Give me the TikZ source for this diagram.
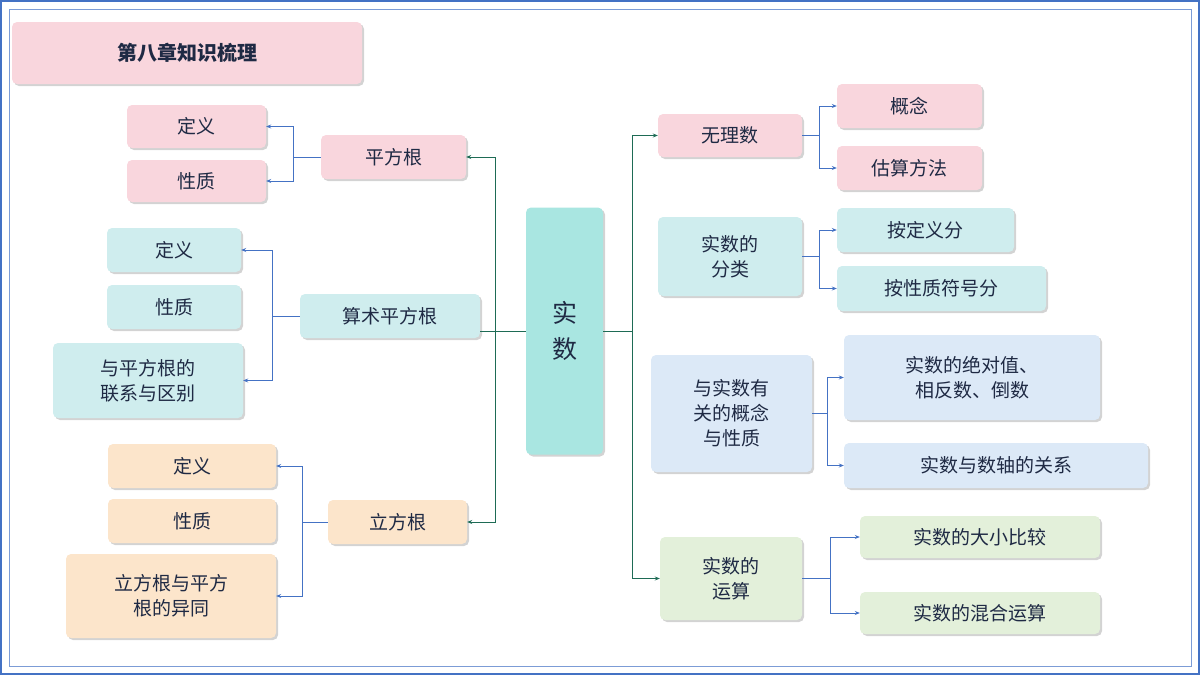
\documentclass[tikz,border=0pt]{standalone}
\usepackage{fontspec}
\newfontfamily\cjk{Noto Sans CJK SC}
\usetikzlibrary{shadows,arrows.meta}
\definecolor{pk}{HTML}{F9D6DD}
\definecolor{tl}{HTML}{CFEDEE}
\definecolor{og}{HTML}{FCE5CB}
\definecolor{bl}{HTML}{DCE9F7}
\definecolor{gr}{HTML}{E3F0DA}
\definecolor{ct}{HTML}{A9E6E1}
\definecolor{tx}{HTML}{1F2A44}
\definecolor{dg}{HTML}{1E6B55}
\definecolor{bb}{HTML}{4472C4}
\begin{document}
\begin{tikzpicture}[x=1pt,y=-1pt,
 box/.style={draw=none,rounded corners=5pt,inner sep=0pt,align=center,text=tx,
   font=\cjk\fontsize{19}{25}\selectfont,drop shadow={shadow xshift=2pt,shadow yshift=-2pt,opacity=0.35}},
 mk/.style n args={5}{box,fill=#1,minimum width=#4,minimum height=#5},
 g/.style={draw=dg,line width=0.9pt},
 b/.style={draw=bb,line width=0.7pt},
 ar/.style={-{Stealth[length=5pt,width=4pt]}}]
\useasboundingbox (0,0) rectangle (1200,675);
\draw[bb,line width=1.5pt] (1,1) rectangle (1199,674);
\draw[bb!70,line width=0.6pt] (9,9) rectangle (1191,666);
% title
\node[mk={pk}{}{}{350pt}{62pt},font=\cjk\fontsize{20}{24}\selectfont\bfseries] (title) at (187,53) {第八章知识梳理};
% center
\node[mk={ct}{}{}{77pt}{247pt},font=\cjk\fontsize{25}{36}\selectfont] (c) at (564.5,331) {实\\数};
% left
\node[mk={pk}{}{}{145pt}{44pt}] (pf) at (393.5,157) {平方根};
\node[mk={pk}{}{}{139pt}{43pt}] (pf1) at (196.5,126.5) {定义};
\node[mk={pk}{}{}{139pt}{42pt}] (pf2) at (196.5,181) {性质};
\node[mk={tl}{}{}{180pt}{44pt}] (ss) at (390,316) {算术平方根};
\node[mk={tl}{}{}{134pt}{44pt}] (ss1) at (174,250) {定义};
\node[mk={tl}{}{}{134pt}{44pt}] (ss2) at (174,307) {性质};
\node[mk={tl}{}{}{190pt}{75pt}] (ss3) at (148,380.5) {与平方根的\\联系与区别};
\node[mk={og}{}{}{139pt}{44pt}] (lf) at (397.5,522) {立方根};
\node[mk={og}{}{}{168pt}{44pt}] (lf1) at (192,466) {定义};
\node[mk={og}{}{}{168pt}{44pt}] (lf2) at (192,521) {性质};
\node[mk={og}{}{}{210pt}{84pt}] (lf3) at (171,596) {立方根与平方\\根的异同};
% right
\node[mk={pk}{}{}{144pt}{43pt}] (wl) at (730,135.5) {无理数};
\node[mk={pk}{}{}{145pt}{44pt}] (wl1) at (909.5,106) {概念};
\node[mk={pk}{}{}{145pt}{44pt}] (wl2) at (909.5,168) {估算方法};
\node[mk={tl}{}{}{144pt}{79pt}] (fl) at (730,256.5) {实数的\\分类};
\node[mk={tl}{}{}{177pt}{44pt}] (fl1) at (925.5,230) {按定义分};
\node[mk={tl}{}{}{209pt}{45pt}] (fl2) at (941.5,288.5) {按性质符号分};
\node[mk={bl}{}{}{161pt}{117pt}] (gn) at (731.5,413.5) {与实数有\\关的概念\\与性质};
\node[mk={bl}{}{}{256pt}{85pt}] (gn1) at (972,377.5) {实数的绝对值、\\相反数、倒数};
\node[mk={bl}{}{}{304pt}{45pt}] (gn2) at (996,465.5) {实数与数轴的关系};
\node[mk={gr}{}{}{142pt}{83pt}] (ys) at (731,578.5) {实数的\\运算};
\node[mk={gr}{}{}{240pt}{42pt}] (ys1) at (980,537) {实数的大小比较};
\node[mk={gr}{}{}{240pt}{42pt}] (ys2) at (980,613) {实数的混合运算};
% green connectors
\coordinate (lj) at (495,331); \coordinate (rj) at (632,331);
\draw[g] (c.west) -- (lj);
\draw[g,ar] (lj) |- (pf.east);
\draw[g,ar] (lj) |- (lf.east);
\draw[g] (ss.east |- lj) -- (lj);
\draw[g] (c.east) -- (rj);
\draw[g,ar] (rj) |- (wl.west);
\draw[g,ar] (rj) |- (ys.west);
% blue connectors
\foreach \p/\a/\bb/\x in {pf/pf1/pf2/293, lf/lf1/lf3/302}{
  \draw[b] (\p.west) -- (\x,0 |- \p.west);
  \draw[b,ar] (\x,0 |- \p.west) |- (\a.east);
  \draw[b,ar] (\x,0 |- \p.west) |- (\bb.east);}
\draw[b] (ss.west) -- (272,316);
\draw[b,ar] (272,316) |- (ss1.east);
\draw[b,ar] (272,316) |- (ss3.east);
\foreach \p/\a/\bb/\x in {wl/wl1/wl2/819, fl/fl1/fl2/819, gn/gn1/gn2/827, ys/ys1/ys2/830}{
  \draw[b] (\p.east) -- (\x,0 |- \p.east);
  \draw[b,ar] (\x,0 |- \p.east) |- (\a.west);
  \draw[b,ar] (\x,0 |- \p.east) |- (\bb.west);}
\end{tikzpicture}
\end{document}
